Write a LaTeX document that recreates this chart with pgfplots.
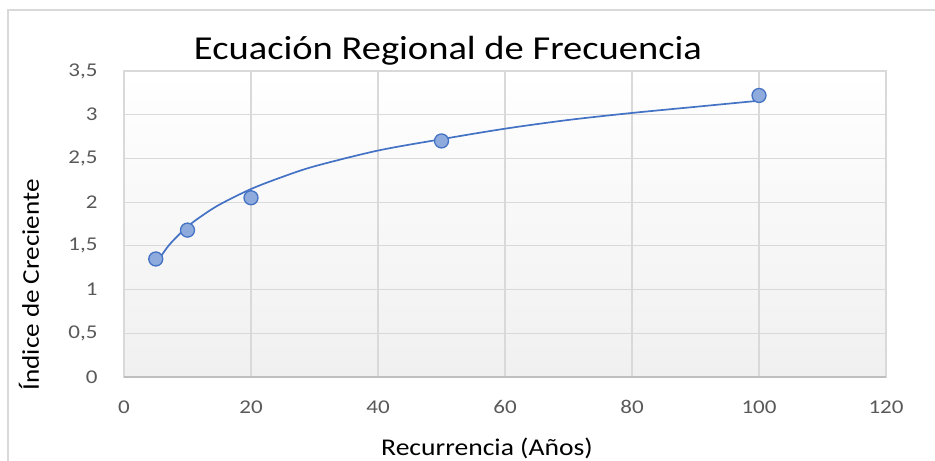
\documentclass[border=0pt]{standalone}
\usepackage{pgfplots}
\pgfplotsset{compat=1.18}
\usepackage{fontspec}
\setmainfont{Carlito}
\definecolor{gridc}{RGB}{217,217,217}
\definecolor{axisc}{RGB}{191,191,191}
\definecolor{tickc}{RGB}{89,89,89}
\definecolor{linec}{RGB}{68,114,196}
\definecolor{markc}{RGB}{143,170,220}
\definecolor{bgbot}{RGB}{240,240,240}
\begin{document}
\begin{tikzpicture}[x=1bp,y=1bp]
\useasboundingbox (0,0) rectangle (935,461);
\draw[gridc, line width=1.2bp] (8,-5) -- (8,451) -- (940,451);
\begin{axis}[
  at={(124bp,84bp)}, anchor=south west,
  scale only axis, width=762bp, height=306bp,
  xmin=0, xmax=120, ymin=0, ymax=3.5,
  xtick={0,20,...,120}, ytick={0,0.5,...,3.5},
  major tick length=0pt,
  axis line style={draw=gridc, line width=1.2bp},
  grid=major, major grid style={draw=gridc, line width=1.2bp},
  axis background/.style={shade, top color=white, bottom color=bgbot},
  /pgf/number format/assume math mode=true,
  /pgf/number format/use comma,
  yticklabel style={/pgf/number format/fixed, /pgf/number format/precision=1, font=\fontsize{19.5bp}{22bp}\selectfont, text=tickc, xscale=1.18, xshift=-19bp},
  xticklabel style={font=\fontsize{19.5bp}{22bp}\selectfont, text=tickc, xscale=1.18, yshift=-20bp},
  clip=false,
]
\addplot[linec, line width=1.7bp, smooth, tension=0.5] coordinates {
 (5,1.29) (6,1.40) (7,1.50) (8,1.58) (10,1.72) (12,1.83) (15,1.97) (20,2.15)
 (25,2.29) (30,2.41) (40,2.59) (50,2.72) (60,2.84) (70,2.94) (80,3.02) (90,3.09) (100,3.16)};
\addplot[only marks, mark=*, mark size=7bp, mark options={fill=markc, draw=linec, line width=1.3bp}] coordinates {
 (5,1.35) (10,1.68) (20,2.05) (50,2.70) (100,3.22)};
\draw[axisc, line width=1.5bp] (rel axis cs:0,0) -- (rel axis cs:1,0);
\end{axis}
\node[font=\fontsize{33.5bp}{38bp}\selectfont, xscale=1.15] at (448,410) {Ecuación Regional de Frecuencia};
\node[font=\fontsize{24bp}{28bp}\selectfont, xscale=1.15] at (487,13) {Recurrencia (Años)};
\node[font=\fontsize{24bp}{28bp}\selectfont] at (29,176) {\rotatebox{90}{\scalebox{1.13}[1]{Índice de Creciente}}};
\end{tikzpicture}
\end{document}
